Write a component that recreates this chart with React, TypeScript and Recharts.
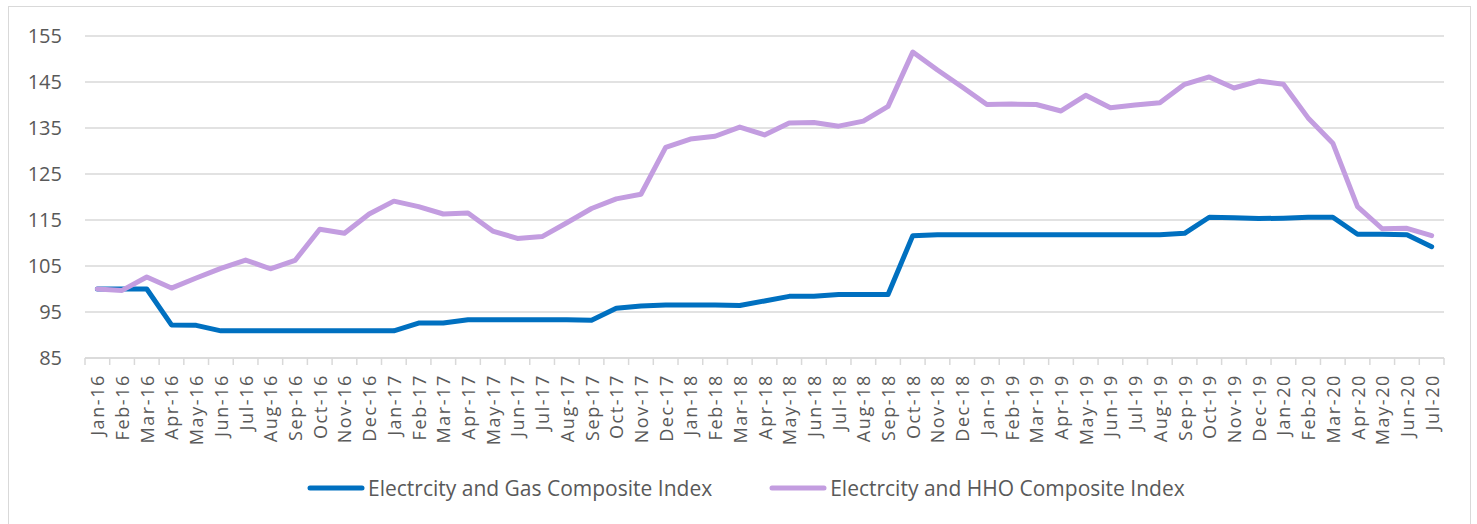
import React from "react";
import { LineChart, Line, XAxis, YAxis, CartesianGrid, Legend } from "recharts";

const months = [
  "Jan-16","Feb-16","Mar-16","Apr-16","May-16","Jun-16","Jul-16","Aug-16","Sep-16","Oct-16","Nov-16","Dec-16",
  "Jan-17","Feb-17","Mar-17","Apr-17","May-17","Jun-17","Jul-17","Aug-17","Sep-17","Oct-17","Nov-17","Dec-17",
  "Jan-18","Feb-18","Mar-18","Apr-18","May-18","Jun-18","Jul-18","Aug-18","Sep-18","Oct-18","Nov-18","Dec-18",
  "Jan-19","Feb-19","Mar-19","Apr-19","May-19","Jun-19","Jul-19","Aug-19","Sep-19","Oct-19","Nov-19","Dec-19",
  "Jan-20","Feb-20","Mar-20","Apr-20","May-20","Jun-20","Jul-20",
];

const gasIndex = [
  100.0, 100.0, 100.0, 92.2, 92.1, 90.9, 90.9, 90.9, 90.9, 90.9, 90.9, 90.9,
  90.9, 92.6, 92.6, 93.3, 93.3, 93.3, 93.3, 93.3, 93.2, 95.8, 96.3, 96.5,
  96.5, 96.5, 96.4, 97.4, 98.4, 98.4, 98.8, 98.8, 98.8, 111.6, 111.8, 111.8,
  111.8, 111.8, 111.8, 111.8, 111.8, 111.8, 111.8, 111.8, 112.1, 115.6, 115.5, 115.3,
  115.4, 115.6, 115.6, 111.9, 111.9, 111.8, 109.2,
];

const hhoIndex = [
  100.0, 99.7, 102.6, 100.2, 102.4, 104.5, 106.3, 104.4, 106.2, 113.0, 112.1, 116.3,
  119.1, 117.9, 116.3, 116.5, 112.6, 111.0, 111.4, 114.4, 117.5, 119.6, 120.6, 130.8,
  132.6, 133.2, 135.2, 133.5, 136.1, 136.2, 135.4, 136.5, 139.7, 151.5, 147.6, 143.9,
  140.1, 140.2, 140.1, 138.7, 142.1, 139.4, 140.0, 140.5, 144.5, 146.1, 143.7, 145.2,
  144.5, 137.2, 131.7, 117.9, 113.1, 113.2, 111.6,
];

const yTicks = [85, 95, 105, 115, 125, 135, 145, 155];

const seriesNames = ["Electrcity and Gas Composite Index", "Electrcity and HHO Composite Index"];
const seriesColors = ["#0070C0", "#C39DE0"];

const data = months.map((m, i) => ({ month: m, gas: gasIndex[i], hho: hhoIndex[i] }));

const TEXT = "#595959";
const GRID = "#D9D9D9";
const FONT = "'Open Sans', sans-serif";

const XTick = (props: any) => {
  const { x, y, payload, width, index } = props;
  const step = (width || 1359) / months.length;
  const left = x - step / 2;
  const right = x + step / 2;
  return (
    <g>
      <line x1={left} y1={y} x2={left} y2={y + 7} stroke={GRID} strokeWidth={1.5} />
      {index === months.length - 1 && (
        <line x1={right} y1={y} x2={right} y2={y + 7} stroke={GRID} strokeWidth={1.5} />
      )}
      <text
        x={x}
        y={y + 16}
        transform={`rotate(-90 ${x} ${y + 16})`}
        textAnchor="end"
        dominantBaseline="central"
        fill={TEXT}
        fontFamily={FONT}
        fontSize={18}
        letterSpacing={1.6}
      >
        {payload.value}
      </text>
    </g>
  );
};

const LegendContent = () => (
  <div style={{ display: "flex", alignItems: "center", paddingLeft: 307, fontFamily: FONT, fontSize: 21, color: TEXT, height: 40 }}>
    {seriesNames.map((n, i) => (
      <div key={n} style={{ display: "flex", alignItems: "center", marginRight: 57 }}>
        <svg width={58} height={8} style={{ marginRight: 3 }}>
          <line x1={3} y1={4} x2={55} y2={4} stroke={seriesColors[i]} strokeWidth={5} strokeLinecap="round" />
        </svg>
        <span>{n}</span>
      </div>
    ))}
  </div>
);

export default function App() {
  return (
    <div style={{ position: "absolute", left: 0, top: 0, width: 1477, height: 524, overflow: "hidden", background: "#fff" }}>
      <div style={{ position: "absolute", left: 8, top: 6, width: 1463, height: 560, border: "1.5px solid #D9D9D9", boxSizing: "border-box" }} />
      <div style={{ position: "absolute", left: 0, top: 0 }}>
        <LineChart width={1477} height={524} data={data} margin={{ top: 36, right: 33, left: 0, bottom: 16 }}>
          <CartesianGrid vertical={false} stroke={GRID} strokeWidth={1.5} />
          <XAxis
            dataKey="month"
            scale="band"
            interval={0}
            height={110}
            tickSize={0}
            tickMargin={0}
            tickLine={false}
            axisLine={{ stroke: GRID, strokeWidth: 1.5 }}
            tick={<XTick />}
          />
          <YAxis
            domain={[85, 155]}
            ticks={yTicks}
            width={85}
            tickSize={0}
            tickMargin={23}
            axisLine={false}
            tickLine={false}
            tick={{ fill: TEXT, fontFamily: FONT, fontSize: 20 }}
          />
          <Legend verticalAlign="bottom" height={40} content={<LegendContent />} wrapperStyle={{ left: 0, width: 1477, height: 40 }} />
          <Line type="linear" dataKey="gas" name={seriesNames[0]} stroke={seriesColors[0]} strokeWidth={5} dot={false} activeDot={false} strokeLinejoin="round" strokeLinecap="round" isAnimationActive={false} />
          <Line type="linear" dataKey="hho" name={seriesNames[1]} stroke={seriesColors[1]} strokeWidth={5} dot={false} activeDot={false} strokeLinejoin="round" strokeLinecap="round" isAnimationActive={false} />
        </LineChart>
      </div>
    </div>
  );
}
